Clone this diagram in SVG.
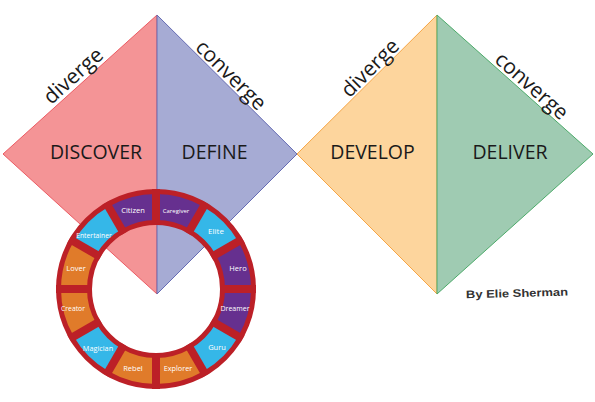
<svg xmlns="http://www.w3.org/2000/svg" xmlns:xlink="http://www.w3.org/1999/xlink" width="595" height="402" viewBox="0 0 595 402">
<style>
.big{font-family:"Open Sans","Liberation Sans",sans-serif;font-size:19.5px;fill:#1a1a1a;text-anchor:middle}
.side{font-family:"Open Sans","Liberation Sans",sans-serif;font-size:21px;fill:#1a1a1a;text-anchor:middle}
.seg{font-family:"Open Sans","Liberation Sans",sans-serif;font-size:7.5px;fill:#ffffff;text-anchor:middle}
.gap{stroke:#BC2027;stroke-width:8}
.pu{fill:#66308F}.cy{fill:#35B7E8}.or{fill:#E07B2A}
</style>
<defs>
<path id="sector" d="M156,194 A95,95 0 0 1 203.5,206.73 L190.5,229.24 A69,69 0 0 0 156,220 Z"/>
</defs>
<rect width="595" height="402" fill="#ffffff"/>
<g id="discover">
<polygon points="157,15 3,154 157,294" fill="#F49496" stroke="#EC5B63" stroke-width="1"/>
<text class="big" x="96" y="159">DISCOVER</text>
<text class="side" transform="translate(78,81) rotate(-42)" y="0">diverge</text>
</g>
<g id="define">
<polygon points="157,15 297,154 157,294" fill="#A6ABD4" stroke="#666CB3" stroke-width="1"/>
<text class="big" x="214.5" y="159">DEFINE</text>
<text class="side" transform="translate(226,80) rotate(44.8)" y="0">converge</text>
</g>
<g id="develop">
<polygon points="437,15 297,154 437,294" fill="#FDD59D" stroke="#F6A545" stroke-width="1"/>
<text class="big" x="372.5" y="159">DEVELOP</text>
<text class="side" transform="translate(375,73) rotate(-44.8)" y="0">diverge</text>
</g>
<g id="deliver">
<polygon points="437,15 593,154 437,294" fill="#9FCBB2" stroke="#4DAA6A" stroke-width="1"/>
<text class="big" x="510" y="159">DELIVER</text>
<text class="side" transform="translate(527,91) rotate(41.7)" y="0">converge</text>
</g>
<g id="wheel">
<circle cx="156" cy="289" r="82" fill="none" stroke="#BC2027" stroke-width="36"/>
<g id="seg-caregiver"><use xlink:href="#sector" class="pu" transform="rotate(0 156 289)"/><text class="seg" x="176" y="213" style="font-size:6px">Caregiver</text></g>
<g id="seg-elite"><use xlink:href="#sector" class="cy" transform="rotate(30 156 289)"/><text class="seg" x="216" y="233.5" style="font-size:8px">Elite</text></g>
<g id="seg-hero"><use xlink:href="#sector" class="pu" transform="rotate(60 156 289)"/><text class="seg" x="238" y="270.5">Hero</text></g>
<g id="seg-dreamer"><use xlink:href="#sector" class="pu" transform="rotate(90 156 289)"/><text class="seg" x="235" y="310.5" style="font-size:7px">Dreamer</text></g>
<g id="seg-guru"><use xlink:href="#sector" class="cy" transform="rotate(120 156 289)"/><text class="seg" x="217" y="349.5">Guru</text></g>
<g id="seg-explorer"><use xlink:href="#sector" class="or" transform="rotate(150 156 289)"/><text class="seg" x="178" y="370.5" style="font-size:7.3px">Explorer</text></g>
<g id="seg-rebel"><use xlink:href="#sector" class="or" transform="rotate(180 156 289)"/><text class="seg" x="133" y="370.5">Rebel</text></g>
<g id="seg-magician"><use xlink:href="#sector" class="cy" transform="rotate(210 156 289)"/><text class="seg" x="98" y="350.5" style="font-size:7.3px">Magician</text></g>
<g id="seg-creator"><use xlink:href="#sector" class="or" transform="rotate(240 156 289)"/><text class="seg" x="73" y="310.5" style="font-size:6.8px">Creator</text></g>
<g id="seg-lover"><use xlink:href="#sector" class="or" transform="rotate(270 156 289)"/><text class="seg" x="76" y="270.5">Lover</text></g>
<g id="seg-entertainer"><use xlink:href="#sector" class="cy" transform="rotate(300 156 289)"/><text class="seg" x="94" y="237.5" style="font-size:6.8px">Entertainer</text></g>
<g id="seg-citizen"><use xlink:href="#sector" class="pu" transform="rotate(330 156 289)"/><text class="seg" x="133" y="212.5">Citizen</text></g>
<g id="gaps">
<line class="gap" x1="156" y1="189" x2="156" y2="225" transform="rotate(0 156 289)"/>
<line class="gap" x1="156" y1="189" x2="156" y2="225" transform="rotate(30 156 289)"/>
<line class="gap" x1="156" y1="189" x2="156" y2="225" transform="rotate(60 156 289)"/>
<line class="gap" x1="156" y1="189" x2="156" y2="225" transform="rotate(90 156 289)"/>
<line class="gap" x1="156" y1="189" x2="156" y2="225" transform="rotate(120 156 289)"/>
<line class="gap" x1="156" y1="189" x2="156" y2="225" transform="rotate(150 156 289)"/>
<line class="gap" x1="156" y1="189" x2="156" y2="225" transform="rotate(180 156 289)"/>
<line class="gap" x1="156" y1="189" x2="156" y2="225" transform="rotate(210 156 289)"/>
<line class="gap" x1="156" y1="189" x2="156" y2="225" transform="rotate(240 156 289)"/>
<line class="gap" x1="156" y1="189" x2="156" y2="225" transform="rotate(270 156 289)"/>
<line class="gap" x1="156" y1="189" x2="156" y2="225" transform="rotate(300 156 289)"/>
<line class="gap" x1="156" y1="189" x2="156" y2="225" transform="rotate(330 156 289)"/>
</g>
</g>
<g id="credit">
<text x="466" y="297" transform="rotate(-1.5 517 294)" font-family="Liberation Sans, Arial, sans-serif" font-weight="bold" font-size="11" fill="#333333" textLength="102" lengthAdjust="spacingAndGlyphs">By Elie Sherman</text>
</g>
</svg>
